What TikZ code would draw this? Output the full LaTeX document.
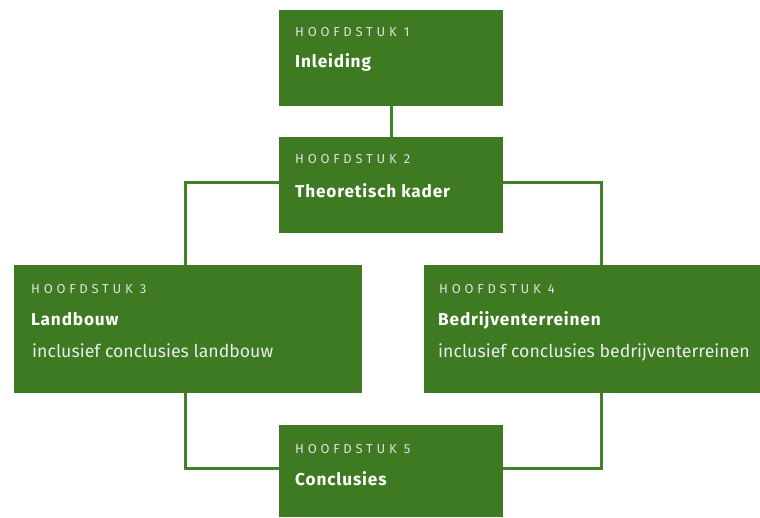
\documentclass[tikz,border=0pt]{standalone}
\usepackage{fontspec}
\setmainfont{Fira Sans}
\newfontfamily\kopfont[LetterSpace=29]{Fira Sans}
\newfontfamily\titelfont[LetterSpace=5]{Fira Sans}
\definecolor{hgroen}{HTML}{3D7A22}
\definecolor{lgroen}{HTML}{428027}
\begin{document}
\begin{tikzpicture}[x=1pt,y=-1pt,
  blok/.style={fill=hgroen, draw=none, inner sep=0pt, anchor=north west},
  kop/.style={anchor=base west, inner sep=0pt, text=black!12, font=\kopfont\fontsize{13}{15}\selectfont},
  titel/.style={anchor=base west, inner sep=0pt, text=white, font=\titelfont\bfseries\fontsize{17.2}{20}\selectfont},
  sub/.style={anchor=base west, inner sep=0pt, text=white!92!black, font=\fontsize{17.7}{20}\selectfont},
  lijn/.style={draw=lgroen, line width=2.6pt}]
\useasboundingbox (0,0) rectangle (760,517);

\node[blok, minimum width=224pt, minimum height=96pt] (h1) at (279,10) {};
\node[kop] (k1) at (295,36) {HOOFDSTUK 1};
\node[titel] (t1) at (295,67) {Inleiding};

\node[blok, minimum width=224pt, minimum height=96pt] (h2) at (279,137) {};
\node[kop] (k2) at (295,163) {HOOFDSTUK 2};
\node[titel] (t2) at (295,197) {Theoretisch kader};

\node[blok, minimum width=348pt, minimum height=128pt] (h3) at (14,265) {};
\node[kop] (k3) at (31,293) {HOOFDSTUK 3};
\node[titel] (t3) at (31,325) {Landbouw};
\node[sub] (s3) at (32,357) {inclusief conclusies landbouw};

\node[blok, minimum width=336pt, minimum height=128pt] (h4) at (424,265) {};
\node[kop] (k4) at (439,293) {HOOFDSTUK 4};
\node[titel] (t4) at (438,325) {Bedrijventerreinen};
\node[sub] (s4) at (438,357) {inclusief conclusies bedrijventerreinen};

\node[blok, minimum width=224pt, minimum height=92pt] (h5) at (279,425) {};
\node[kop] (k5) at (295,453) {HOOFDSTUK 5};
\node[titel] (t5) at (295,485) {Conclusies};

\path[lijn] (h1.south) -- (h2.north);
\path[lijn] ([yshift=3pt]h2.west) -| ([xshift=-3pt]h3.north);
\path[lijn] ([yshift=3pt]h2.east) -| ([xshift=9pt]h4.north);
\path[lijn] ([xshift=-3pt]h3.south) |- ([yshift=3pt]h5.west);
\path[lijn] ([xshift=9pt]h4.south) |- ([yshift=3pt]h5.east);
\end{tikzpicture}
\end{document}
